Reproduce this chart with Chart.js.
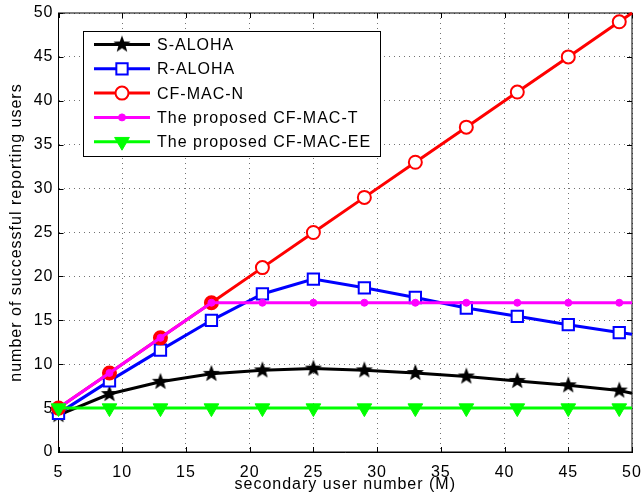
<!DOCTYPE html>
<html>
<head>
<meta charset="utf-8">
<script src="https://cdn.jsdelivr.net/npm/chart.js@4/dist/chart.umd.min.js"></script>
<style>
  body { margin: 0; background: #fff; }
</style>
</head>
<body>
<canvas id="chart" width="644" height="500"></canvas>
<script>
  // data (last point at M=50 carries no marker)
  const userNumbers = [5, 9, 13, 17, 21, 25, 29, 33, 37, 41, 45, 49, 50];
  const sAloha = [4.2, 6.6, 8.0, 8.9, 9.3, 9.5, 9.3, 9.0, 8.6, 8.1, 7.6, 7.0, 6.7];
  const rAloha = [4.4, 8.1, 11.6, 15.0, 18.0, 19.7, 18.7, 17.6, 16.4, 15.45, 14.5, 13.6, 13.4];
  const cfMacN = [5, 9, 13, 17, 21, 25, 29, 33, 37, 41, 45, 49, 50];
  const cfMacT = [5, 9, 13, 17, 17, 17, 17, 17, 17, 17, 17, 17, 17];
  const cfMacEE = [5, 5, 5, 5, 5, 5, 5, 5, 5, 5, 5, 5, 5];
  const seriesNames = [
    "S-ALOHA",
    "R-ALOHA",
    "CF-MAC-N",
    "The proposed CF-MAC-T",
    "The proposed CF-MAC-EE",
  ];
  const xTicks = [5, 10, 15, 20, 25, 30, 35, 40, 45, 50];
  const yTicks = [0, 5, 10, 15, 20, 25, 30, 35, 40, 45, 50];

  const FONT = "'Liberation Sans', Arial, Helvetica, sans-serif";
  Chart.defaults.font.family = FONT;
  Chart.defaults.font.size = 16;
  Chart.defaults.color = "#000";

  // filled five-point star, like matlab's 'p' marker
  function makeStar(r, color) {
    const c = document.createElement("canvas");
    const s = Math.ceil(r * 2 + 2);
    c.width = s;
    c.height = s;
    const g = c.getContext("2d");
    g.fillStyle = color;
    g.beginPath();
    for (let i = 0; i < 10; i++) {
      const a = -Math.PI / 2 + (i * Math.PI) / 5;
      const rr = i % 2 ? r * 0.42 : r;
      g.lineTo(s / 2 + rr * Math.cos(a), s / 2 + rr * Math.sin(a));
    }
    g.closePath();
    g.fill();
    return c;
  }
  const star = makeStar(9, "#000");

  const lastIdx = userNumbers.length - 1;
  function pts(values) {
    return userNumbers.map((x, i) => ({ x: x, y: values[i] }));
  }
  function radii(r) {
    return userNumbers.map((x, i) => (i === lastIdx ? 0 : r));
  }

  const markers = [
    { pointStyle: star, radius: 9, rotation: 0, borderWidth: 0 },
    { pointStyle: "rect", radius: 8, rotation: 0, borderWidth: 2 },
    { pointStyle: "circle", radius: 6.5, rotation: 0, borderWidth: 2 },
    { pointStyle: "circle", radius: 3.5, rotation: 0, borderWidth: 1 },
    { pointStyle: "triangle", radius: 8.5, rotation: 180, borderWidth: 1 },
  ];
  const colors = ["#000000", "#0000ff", "#ff0000", "#ff00ff", "#00ff00"];
  const fills = ["#000000", "#ffffff", "#ffffff", "#ff00ff", "#00ff00"];
  const allValues = [sAloha, rAloha, cfMacN, cfMacT, cfMacEE];

  const datasets = allValues.map((vals, i) => ({
    label: seriesNames[i],
    data: pts(vals),
    borderColor: colors[i],
    backgroundColor: fills[i],
    borderWidth: 3,
    pointStyle: markers[i].pointStyle,
    pointRotation: markers[i].rotation,
    pointRadius: radii(markers[i].radius),
    pointHoverRadius: radii(markers[i].radius),
    pointBorderColor: colors[i],
    // where CF-MAC-N and CF-MAC-T share a point the circle shows up solid red
    pointBackgroundColor:
      i === 2 ? cfMacN.map((v, k) => (v === cfMacT[k] ? colors[2] : fills[2])) : fills[i],
    pointBorderWidth: markers[i].borderWidth,
    tension: 0,
    clip: false,
    order: allValues.length - i,
  }));

  // box, inward ticks and the legend inside the axes
  const matlabAxes = {
    id: "matlabAxes",
    beforeDraw(chart) {
      chart.ctx.letterSpacing = "1px";
    },
    beforeDatasetsDraw(chart) {
      const { ctx, chartArea: a, scales } = chart;
      ctx.save();
      ctx.strokeStyle = "#000";
      ctx.lineWidth = 1;
      ctx.strokeRect(a.left, a.top, a.right - a.left, a.bottom - a.top);
      ctx.beginPath();
      xTicks.forEach((t) => {
        const px = Math.round(scales.x.getPixelForValue(t)) + 0.5;
        ctx.moveTo(px, a.bottom); ctx.lineTo(px, a.bottom - 5);
        ctx.moveTo(px, a.top); ctx.lineTo(px, a.top + 5);
      });
      yTicks.forEach((t) => {
        const py = Math.round(scales.y.getPixelForValue(t)) + 0.5;
        ctx.moveTo(a.left, py); ctx.lineTo(a.left + 5, py);
        ctx.moveTo(a.right, py); ctx.lineTo(a.right - 5, py);
      });
      ctx.stroke();
      ctx.restore();
    },
    afterDraw(chart) {
      const ctx = chart.ctx;
      ctx.save();
      ctx.fillStyle = "#fff";
      ctx.fillRect(83.5, 31.5, 297, 125);
      ctx.strokeStyle = "#000";
      ctx.lineWidth = 1;
      ctx.strokeRect(83.5, 31.5, 297, 125);
      chart.data.datasets.forEach((ds, i) => {
        const y = 44.5 + i * 24.3;
        ctx.strokeStyle = ds.borderColor;
        ctx.lineWidth = ds.borderWidth;
        ctx.beginPath();
        ctx.moveTo(94, y);
        ctx.lineTo(150, y);
        ctx.stroke();
        ctx.fillStyle = fills[i];
        ctx.strokeStyle = ds.pointBorderColor;
        ctx.lineWidth = markers[i].borderWidth;
        Chart.helpers.drawPoint(ctx, markers[i], 122, y);
        ctx.fillStyle = "#000";
        ctx.font = "16px " + FONT;
        ctx.textBaseline = "middle";
        ctx.textAlign = "left";
        ctx.fillText(ds.label, 157, y + 1);
      });
      ctx.restore();
    },
  };

  new Chart(document.getElementById("chart"), {
    type: "line",
    data: { datasets: datasets },
    options: {
      responsive: false,
      animation: false,
      events: [],
      layout: { padding: { top: 13, right: 12, left: 0, bottom: 0 } },
      plugins: {
        legend: { display: false },
        tooltip: { enabled: false },
      },
      scales: {
        x: {
          type: "linear",
          min: 5,
          max: 50,
          afterBuildTicks: (s) => { s.ticks = xTicks.map((v) => ({ value: v })); },
          afterFit: (s) => {
            s.height = 48;
            s.paddingLeft = 0;
            s.paddingRight = 0;
          },
          ticks: { padding: 11, maxRotation: 0, font: { size: 16 } },
          grid: { color: "rgba(0,0,0,0.55)", lineWidth: 1, drawTicks: false },
          border: { display: true, color: "#000", width: 1, dash: [1, 4] },
          title: {
            display: true,
            text: "secondary user number (M)",
            font: { size: 16 },
            padding: { top: 0, bottom: 6 },
          },
        },
        y: {
          type: "linear",
          min: 0,
          max: 50,
          afterBuildTicks: (s) => { s.ticks = yTicks.map((v) => ({ value: v })); },
          afterFit: (s) => {
            s.width = 58.5;
            s.paddingTop = 0;
            s.paddingBottom = 0;
          },
          ticks: { padding: 5, font: { size: 16 } },
          grid: { color: "rgba(0,0,0,0.55)", lineWidth: 1, drawTicks: false },
          border: { display: true, color: "#000", width: 1, dash: [1, 4] },
          title: {
            display: true,
            text: "number of successful reporting users",
            font: { size: 16 },
            padding: { top: 7, bottom: 0 },
          },
        },
      },
    },
    plugins: [matlabAxes],
  });
</script>
</body>
</html>
